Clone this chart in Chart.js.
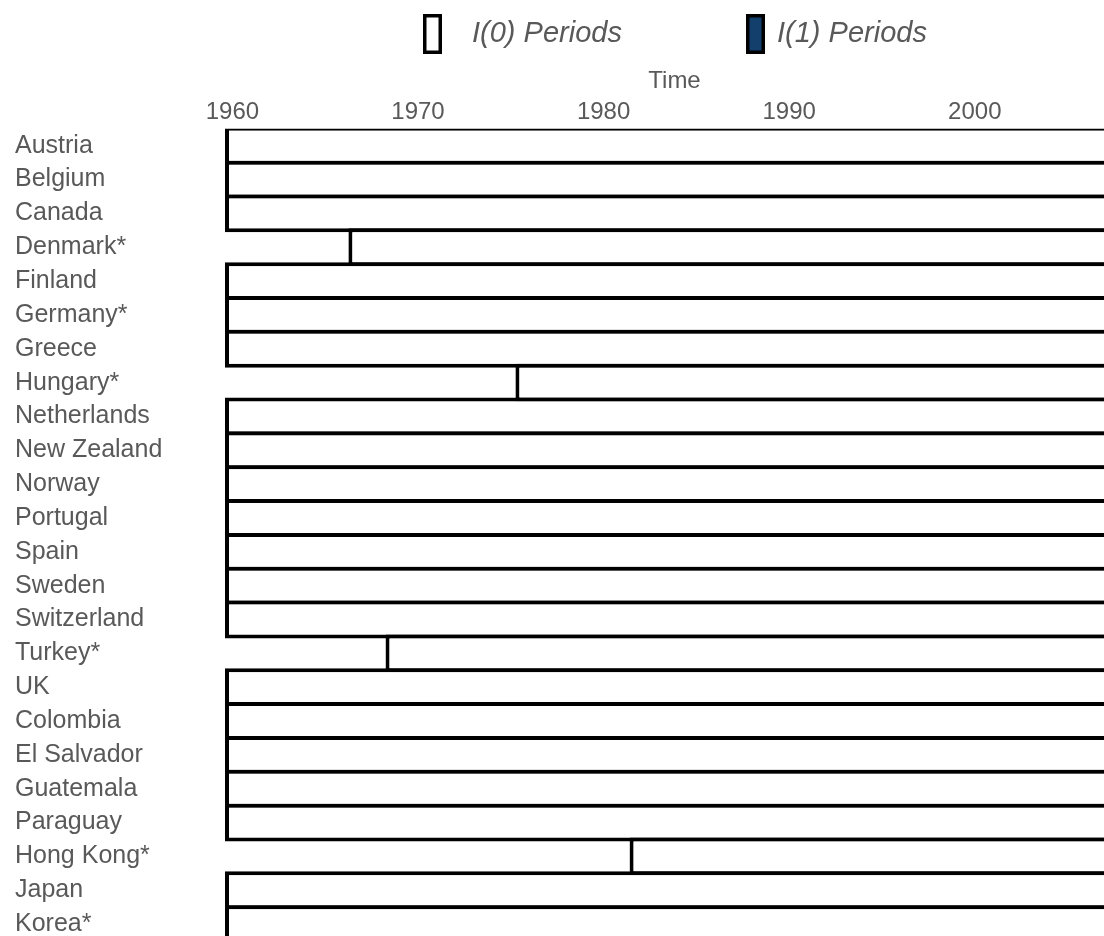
<!DOCTYPE html>
<html>
<head>
<meta charset="utf-8">
<script src="https://cdn.jsdelivr.net/npm/chart.js@4.4.1/dist/chart.umd.min.js"></script>
<style>
  html, body { margin: 0; padding: 0; background: #ffffff; overflow: hidden; }
  #wrap { width: 1104px; height: 936px; overflow: hidden; position: relative; }
  #c { position: absolute; left: 0; top: 0; }
</style>
</head>
<body>
<div id="wrap"><canvas id="c" width="1124" height="941"></canvas></div>
<script>
// ---- data ----
const countries = ['Austria','Belgium','Canada','Denmark*','Finland','Germany*','Greece','Hungary*',
  'Netherlands','New Zealand','Norway','Portugal','Spain','Sweden','Switzerland','Turkey*','UK',
  'Colombia','El Salvador','Guatemala','Paraguay','Hong Kong*','Japan','Korea*'];
const i0Start = [1959.6, 1959.6, 1959.6, 1966.25, 1959.6, 1959.6, 1959.6, 1975.25,
  1959.6, 1959.6, 1959.6, 1959.6, 1959.6, 1959.6, 1959.6, 1968.25, 1959.6,
  1959.6, 1959.6, 1959.6, 1959.6, 1981.4, 1959.6, 1959.6];
const i0End = [2010, 2010, 2010, 2010, 2010, 2010, 2010, 2010,
  2010, 2010, 2010, 2010, 2010, 2010, 2010, 2010, 2010,
  2010, 2010, 2010, 2010, 2010, 2010, 2010];
const tickYears = [1960, 1970, 1980, 1990, 2000];
const axisTitle = 'Time';
const legendLabels = ['I(0) Periods', 'I(1) Periods'];
const legendColors = ['#ffffff', '#133f6d'];

const TEXT = '#595959';
const FONT = '"Liberation Sans", Arial, Helvetica, sans-serif';

const legendPlugin = {
  id: 'customLegend',
  afterDraw(chart) {
    const ctx = chart.ctx;
    const pos = [{bx: 423, tx: 472}, {bx: 746, tx: 777}];
    ctx.save();
    legendLabels.forEach((lab, i) => {
      const p = pos[i];
      ctx.fillStyle = legendColors[i];
      ctx.fillRect(p.bx, 14, 19, 40);
      ctx.lineWidth = 3.5;
      ctx.strokeStyle = '#000000';
      ctx.strokeRect(p.bx + 1.75, 15.75, 15.5, 36.5);
      ctx.font = 'italic 29px ' + FONT;
      ctx.fillStyle = TEXT;
      ctx.textBaseline = 'middle';
      ctx.textAlign = 'left';
      ctx.fillText(lab, p.tx, 34);
    });
    ctx.restore();
  }
};

new Chart(document.getElementById('c'), {
  type: 'bar',
  data: {
    labels: countries,
    datasets: [{
      label: legendLabels[0],
      data: countries.map((c, i) => [i0Start[i], i0End[i]]),
      backgroundColor: legendColors[0],
      borderColor: '#000000',
      borderWidth: 4,
      borderSkipped: false,
      categoryPercentage: 1,
      barPercentage: 1.118
    }]
  },
  options: {
    indexAxis: 'y',
    responsive: false,
    animation: false,
    devicePixelRatio: 1,
    layout: { padding: { top: 0, left: 15, right: 0, bottom: 0 } },
    plugins: { legend: { display: false }, tooltip: { enabled: false } },
    scales: {
      x: {
        type: 'linear',
        position: 'top',
        min: 1959.6,
        max: 2008.04,
        grid: { display: false, drawTicks: false },
        border: { display: false },
        afterBuildTicks(scale) { scale.ticks = tickYears.map(v => ({ value: v })); },
        ticks: {
          padding: 2.4,
          color: TEXT,
          font: { family: FONT, size: 24 },
          maxRotation: 0,
          autoSkip: false,
          callback: v => String(v)
        },
        title: {
          display: true,
          text: axisTitle,
          color: TEXT,
          font: { family: FONT, size: 24 },
          padding: { top: 66.6, bottom: 0 }
        },
        afterFit(scale) {
          scale.height = 128.8;
          scale.paddingLeft = 0; scale.paddingRight = 0;
        }
      },
      y: {
        type: 'category',
        grid: { display: false, drawTicks: false },
        border: { display: false },
        ticks: {
          crossAlign: 'far',
          color: TEXT,
          font: { family: FONT, size: 25 },
          autoSkip: false,
          padding: 0
        },
        afterFit(scale) {
          scale.width = 210;
          scale.paddingTop = 0; scale.paddingBottom = 0;
        }
      }
    }
  },
  plugins: [legendPlugin]
});
</script>
</body>
</html>
